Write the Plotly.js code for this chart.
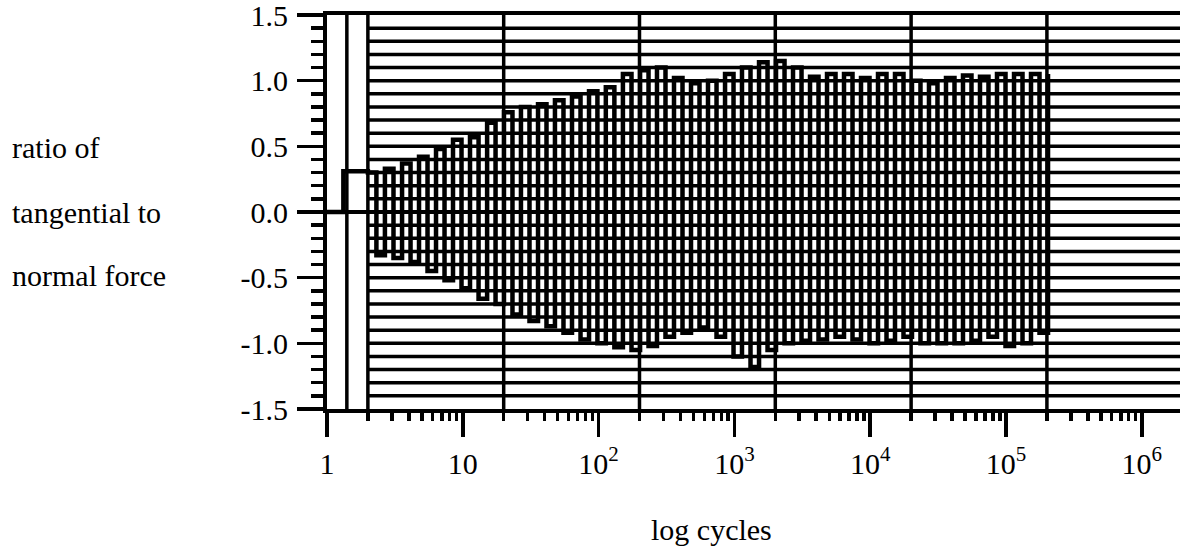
<!DOCTYPE html>
<html>
<head>
<meta charset="utf-8">
<script src="https://cdn.plot.ly/plotly-3.0.1.min.js"></script>
<style>html,body{margin:0;padding:0;background:#fff;}#chart{width:1180px;height:551px;}</style>
</head>
<body>
<div id="chart"></div>
<script>
// ---- data ----
// start of test: ratio at zero, then the first loop
const startCycles = [1, 1.32, 1.32, 2];
const startRatio  = [0, 0, 0.31, 0.31];

// cycle at which each plotted loop begins
const loopCycles = [2.0, 2.67, 3.57, 4.76, 6.35, 8.47, 11.3, 15.1, 20.1, 26.8,
  35.8, 47.7, 63.7, 85, 113, 151, 202, 269, 359, 479,
  639, 853, 1137, 1518, 2025, 2701, 3603, 4807, 6412, 8553,
  11410, 15220, 20300, 27080, 36130, 48200, 64300, 85800, 114500, 152700];
const loopEndCycle = 203800;
// maximum (positive) ratio reached in each loop
const loopMax = [0.30, 0.33, 0.37, 0.42, 0.48, 0.55, 0.57, 0.68, 0.76, 0.80,
  0.82, 0.85, 0.88, 0.92, 0.95, 1.05, 1.08, 1.10, 1.02, 0.98,
  1.00, 1.05, 1.10, 1.14, 1.15, 1.10, 1.03, 1.05, 1.05, 1.02,
  1.05, 1.05, 1.00, 0.98, 1.02, 1.04, 1.03, 1.05, 1.05, 1.05];
// minimum (negative) ratio reached in each loop
const loopMin = [-0.33, -0.35, -0.38, -0.45, -0.52, -0.58, -0.66, -0.70, -0.78, -0.83,
  -0.87, -0.92, -0.97, -1.00, -1.03, -1.05, -1.02, -0.95, -0.92, -0.88,
  -0.95, -1.10, -1.18, -1.05, -1.00, -0.98, -0.97, -0.95, -0.97, -1.00,
  -0.98, -0.95, -1.00, -1.00, -1.00, -0.98, -0.95, -1.02, -1.00, -0.92];
const endRatio = 1.05;

// axis ticks
const majorTickVals = [1, 10, 100, 1000, 10000, 100000, 1000000];
const majorTickText = ['1', '10', '10<sup>2</sup>', '10<sup>3</sup>', '10<sup>4</sup>', '10<sup>5</sup>', '10<sup>6</sup>'];
const yTickVals = [-1.5, -1.0, -0.5, 0.0, 0.5, 1.0, 1.5];
const yTickText = ['-1.5', '-1.0', '-0.5', '0.0', '0.5', '1.0', '1.5'];
const verticalGridCycles = [1.4, 2, 20, 200, 2000, 20000, 200000];
const horizontalGridStart = 2;
const horizontalGridEnd = 3e6;

// ---- build traces ----
const X_MAX_LOG = 6.281;
const FONT = 'Liberation Serif, Times New Roman, serif';
const FS = 30;

// loop curve
const lx = startCycles.slice();
const ly = startRatio.slice();
for (let i = 0; i < loopCycles.length; i++) {
  const c = loopCycles[i];
  const next = i + 1 < loopCycles.length ? loopCycles[i + 1] : loopEndCycle;
  const mid = Math.sqrt(c * next);
  lx.push(c, mid, mid, next);
  ly.push(loopMax[i], loopMax[i], loopMin[i], loopMin[i]);
}
lx.push(loopEndCycle);
ly.push(endRatio);

// horizontal grid lines every 0.1 (not at 0; the zero line is the axis zeroline)
const hgx = [], hgy = [];
for (let k = -14; k <= 14; k++) {
  if (k === 0) continue;
  const v = k / 10;
  hgx.push(horizontalGridStart, horizontalGridEnd, null);
  hgy.push(v, v, null);
}
// vertical grid lines
const vgx = [], vgy = [];
verticalGridCycles.forEach(c => { vgx.push(c, c, null); vgy.push(-1.5, 1.5, null); });

// minor x ticks
const minorX = [];
for (let d = 0; d < 7; d++) {
  for (let m = 2; m <= 9; m++) minorX.push(m * Math.pow(10, d));
}

const traces = [
  {x: hgx, y: hgy, mode: 'lines', line: {color: '#000', width: 3.5}, hoverinfo: 'skip', showlegend: false},
  {x: vgx, y: vgy, mode: 'lines', line: {color: '#000', width: 3.5}, hoverinfo: 'skip', showlegend: false},
  {x: lx, y: ly, mode: 'lines', line: {color: '#000', width: 4.5}, showlegend: false},
  {x: [], y: [], xaxis: 'x2', yaxis: 'y', mode: 'lines', showlegend: false}
];

const layout = {
  width: 1180, height: 551,
  margin: {l: 327, r: 0, t: 15, b: 142},
  paper_bgcolor: '#fff', plot_bgcolor: '#fff',
  font: {family: FONT, color: '#000', size: FS},
  showlegend: false,
  xaxis: {
    type: 'log', range: [0, X_MAX_LOG],
    tickvals: majorTickVals, ticktext: majorTickText,
    ticks: 'outside', ticklen: 24, tickwidth: 3.5, tickcolor: '#000',
    showline: true, linewidth: 4, linecolor: '#000', mirror: true,
    showgrid: false, zeroline: false,
    tickfont: {family: FONT, size: FS, color: '#000'},
    ticklabelstandoff: 1, ticklabeloverflow: 'allow'
  },
  xaxis2: {
    type: 'log', range: [0, X_MAX_LOG], overlaying: 'x', side: 'bottom', anchor: 'y',
    tickvals: minorX, showticklabels: false,
    ticks: 'outside', ticklen: 11, tickwidth: 3.5, tickcolor: '#000',
    showline: false, showgrid: false, zeroline: false
  },
  yaxis: {
    range: [-1.5, 1.5],
    tickvals: yTickVals, ticktext: yTickText,
    ticks: 'outside', ticklen: 26, tickwidth: 3.5, tickcolor: '#000',
    minor: {dtick: 0.1, tick0: 0, ticks: 'outside', ticklen: 12, tickwidth: 3.5, tickcolor: '#000', showgrid: false},
    showline: true, linewidth: 4, linecolor: '#000',
    showgrid: false,
    zeroline: true, zerolinewidth: 3.5, zerolinecolor: '#000',
    tickfont: {family: FONT, size: FS, color: '#000'},
    ticklabelstandoff: 3, ticklabeloverflow: 'allow'
  },
  annotations: [
    {text: 'ratio of', xref: 'paper', yref: 'paper', x: (10 - 327) / 853, y: (409 - 147) / 394, xanchor: 'left', yanchor: 'middle', showarrow: false, font: {family: FONT, size: FS, color: '#000'}},
    {text: 'tangential to', xref: 'paper', yref: 'paper', x: (10 - 327) / 853, y: (409 - 212) / 394, xanchor: 'left', yanchor: 'middle', showarrow: false, font: {family: FONT, size: FS, color: '#000'}},
    {text: 'normal force', xref: 'paper', yref: 'paper', x: (10 - 327) / 853, y: (409 - 275) / 394, xanchor: 'left', yanchor: 'middle', showarrow: false, font: {family: FONT, size: FS, color: '#000'}},
    {text: 'log cycles', xref: 'paper', yref: 'paper', x: (711 - 327) / 853, y: (409 - 529) / 394, xanchor: 'center', yanchor: 'middle', showarrow: false, font: {family: FONT, size: FS, color: '#000'}}
  ]
};

Plotly.newPlot('chart', traces, layout, {staticPlot: true, displayModeBar: false});
</script>
</body>
</html>
